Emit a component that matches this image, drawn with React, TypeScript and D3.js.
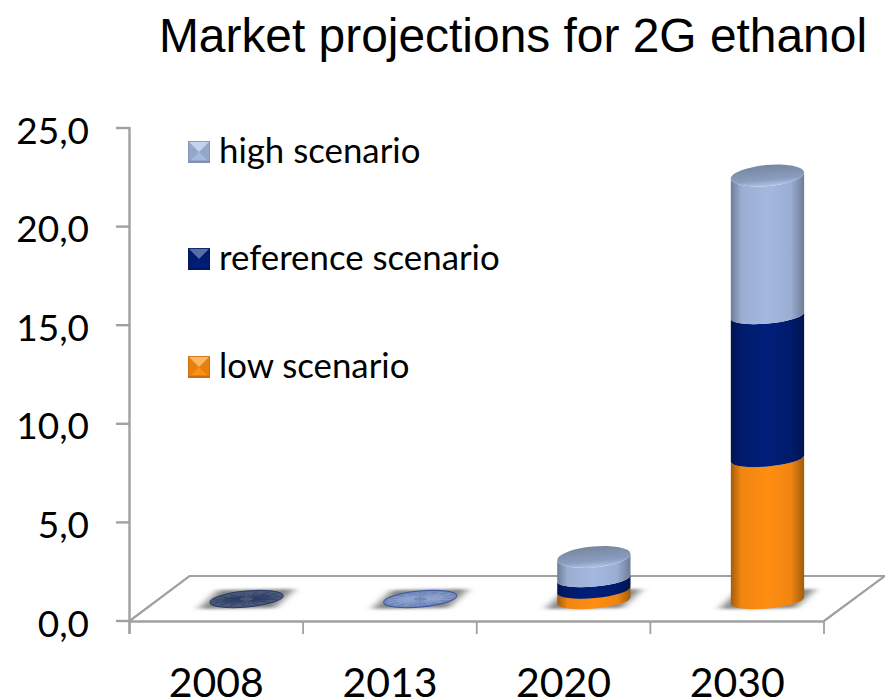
import React from "react";
import * as d3 from "d3";

const title = "Market projections for 2G ethanol";
const categories = ["2008", "2013", "2020", "2030"];
const seriesNames = ["low scenario", "reference scenario", "high scenario"];
const lowValues = [0, 0, 0.53, 7.2];
const referenceValues = [0, 0, 0.58, 7.25];
const highValues = [0, 0, 1.1, 7.1];
const yTicks = [0, 5, 10, 15, 20, 25];

const W = 885, H = 698;
const plot = { left: 129.5, right: 824, top: 128, bottom: 621 };
const depth = { x: 60, y: 45 };
const floorLift = 20.5;
const RX = 36.8, RY = 8, CAP_RY = 10.5, TILT = 5.2;
const barShift = 30.3;

const x = d3.scaleBand<string>().domain(categories).range([plot.left, plot.right]);
const y = d3.scaleLinear().domain([0, 25]).range([plot.bottom, plot.top]);

const palette: Record<string, { mid: string; edge: string; soft: string }> = {
  "low scenario": { mid: "#FF8E12", edge: "#A25C0C", soft: "#F08510" },
  "reference scenario": { mid: "#001F7A", edge: "#00144E", soft: "#001B6C" },
  "high scenario": { mid: "#A5B9E0", edge: "#6E7C96", soft: "#9AADD2" },
};

const rows = categories.map((c, i) => ({
  category: c,
  "low scenario": lowValues[i],
  "reference scenario": referenceValues[i],
  "high scenario": highValues[i],
}));
const stacked = d3.stack<any>().keys(seriesNames)(rows);

const rad = (TILT * Math.PI) / 180;
const ex = RX * Math.cos(rad);
const ey = RX * Math.sin(rad);
const barCx = (c: string) => x(c)! + x.bandwidth() / 2 + barShift;
const valY = (v: number) => y(v) - floorLift;

function sidePath(cx: number, y0: number, y1: number, r0: number, r1: number) {
  return `M${cx - ex},${y0 + ey} A${RX},${r0} ${-TILT} 0 0 ${cx + ex},${y0 - ey} L${cx + ex},${y1 - ey} A${RX},${r1} ${-TILT} 0 1 ${cx - ex},${y1 + ey} Z`;
}

function shadowPath(cx: number, cy: number) {
  return `M${cx - 28},${cy - 9} L${cx + 48},${cy - 10} L${cx + 28},${cy + 9} L${cx - 48},${cy + 10} Z`;
}

const spokes = d3.range(0, 360, 12);

function Marker({ name, yPos }: { name: string; yPos: number }) {
  const s = 22, l = 188, c = palette[name];
  const inset = 3.5;
  const light = d3.interpolateRgb(c.mid, "#ffffff")(0.35);
  const dark = d3.color(c.mid)!.darker(0.7).formatHex();
  const r = l + s, b = yPos + s;
  const m = `${l + s / 2},${yPos + s / 2}`;
  return (
    <g>
      <rect x={l} y={yPos} width={s} height={s} fill={c.mid} />
      <polygon points={`${l},${yPos} ${r},${yPos} ${m}`} fill={light} />
      <polygon points={`${l},${yPos} ${l + inset},${yPos + inset} ${m} ${l + inset},${b - inset} ${l},${b}`} fill={dark} opacity={0.45} />
      <polygon points={`${r},${yPos} ${r - inset},${yPos + inset} ${m} ${r - inset},${b - inset} ${r},${b}`} fill={dark} opacity={0.45} />
      <rect x={l} y={b - 2.5} width={s} height={2.5} fill={dark} />
      <rect x={l + 0.4} y={yPos + 0.4} width={s - 0.8} height={s - 0.8} fill="none" stroke={dark} strokeWidth={0.8} />
    </g>
  );
}

const legendRows = [
  { name: "high scenario", box: 141, text: 162.5 },
  { name: "reference scenario", box: 248, text: 269.5 },
  { name: "low scenario", box: 356, text: 377.5 },
];

const baseColors = ["#4A5878", "#7389BA"];
const axisColor = "#A0A0A0";

export default function App() {
  return (
    <svg width={W} height={H} viewBox={`0 0 ${W} ${H}`} style={{ position: "absolute", left: 0, top: 0, background: "#fff" }}>
      <defs>
        {seriesNames.map((n, i) => (
          <linearGradient key={n} id={`side${i}`} x1="0" x2="1" y1="0" y2="0">
            <stop offset="0" stopColor={palette[n].edge} />
            <stop offset="0.14" stopColor={palette[n].soft} />
            <stop offset="0.5" stopColor={palette[n].mid} />
            <stop offset="0.82" stopColor={palette[n].soft} />
            <stop offset="1" stopColor={palette[n].edge} />
          </linearGradient>
        ))}
        <linearGradient id="cap" x1="0" x2="0" y1="0" y2="1">
          <stop offset="0" stopColor="#77879F" />
          <stop offset="0.7" stopColor="#8B9DC0" />
          <stop offset="0.93" stopColor="#A8BBDD" />
          <stop offset="1" stopColor="#B4C6E6" />
        </linearGradient>
        <filter id="shadowBlur" x="-30%" y="-60%" width="160%" height="220%">
          <feGaussianBlur stdDeviation="5 1.6" />
        </filter>
      </defs>

      <text x={513} y={52} textAnchor="middle" fontFamily="Liberation Sans" fontSize={47.9} fill="#000">{title}</text>

      {/* Floor */}
      <g fill="none" stroke={axisColor} strokeWidth={2.4}>
        <path d={`M${plot.left},${plot.bottom} L${plot.left + depth.x},${plot.bottom - depth.y} L${plot.right + depth.x + 1},${plot.bottom - depth.y} L${plot.right},${plot.bottom}`} strokeWidth={2.2} />
        <line x1={plot.left} x2={plot.left} y1={plot.top - 1} y2={634} />
        <line x1={plot.left} x2={plot.right} y1={plot.bottom + 0.5} y2={plot.bottom + 0.5} />
        {yTicks.map((t) => <line key={t} x1={116} x2={plot.left} y1={y(t)} y2={y(t)} />)}
        {[...categories.map((c) => x(c)!), plot.right].map((p) => <line key={p} x1={p} x2={p} y1={plot.bottom} y2={634} strokeWidth={1.8} />)}
      </g>

      {/* Y tick labels */}
      {yTicks.map((t) => (
        <text key={t} x={89} y={y(t) + 15.5} textAnchor="end" fontFamily="Lato" fontSize={37} fill="#000">
          {d3.format(".1f")(t).replace(".", ",")}
        </text>
      ))}

      {/* X labels */}
      {categories.map((c) => (
        <text key={c} x={x(c)! + x.bandwidth() / 2} y={696.5} textAnchor="middle" fontFamily="Lato" fontSize={41} fill="#000">{c}</text>
      ))}

      {/* Shadows */}
      {categories.map((c) => (
        <path key={c} d={shadowPath(barCx(c), valY(0) - 1.5)} fill="#858585" filter="url(#shadowBlur)" />
      ))}

      {/* Cylinders */}
      {categories.map((c, i) => {
        const cx = barCx(c);
        const total = lowValues[i] + referenceValues[i] + highValues[i];
        if (total === 0) {
          const cy = valY(0) - 1.5;
          return (
            <g key={c}>
              <ellipse cx={cx} cy={cy} rx={RX} ry={RY} transform={`rotate(${-TILT} ${cx} ${cy})`} fill={baseColors[i]} stroke={i === 0 ? "#2A3A62" : "#3A55A0"} strokeWidth={1} />
              {spokes.map((a, j) => {
                const t = (a * Math.PI) / 180;
                const outer = j % 2 === 0 ? 33 : 24;
                return (
                  <line key={a} x1={cx + Math.cos(t) * 7} y1={cy + Math.sin(t) * 1.8} x2={cx + Math.cos(t) * outer} y2={cy + Math.sin(t) * (outer * 0.2) - Math.cos(t) * (outer * 0.08)} stroke={i === 0 ? "#2A3A66" : "#94A9D4"} strokeWidth={1} opacity={0.75} />
                );
              })}
            </g>
          );
        }
        const topV = stacked[stacked.length - 1][i][1];
        return (
          <g key={c}>
            {stacked.map((s, k) => (
              <path key={s.key} d={sidePath(cx, valY(s[i][0]), valY(s[i][1]), RY, k === stacked.length - 1 ? CAP_RY : RY)} fill={`url(#side${k})`} />
            ))}
            <ellipse cx={cx} cy={valY(topV)} rx={RX} ry={CAP_RY} transform={`rotate(${-TILT} ${cx} ${valY(topV)})`} fill="url(#cap)" />
          </g>
        );
      })}

      {/* Legend */}
      {legendRows.map((r) => (
        <g key={r.name}>
          <Marker name={r.name} yPos={r.box} />
          <text x={219} y={r.text} fontFamily="Lato" fontSize={34.8} fill="#000">{r.name}</text>
        </g>
      ))}
    </svg>
  );
}
